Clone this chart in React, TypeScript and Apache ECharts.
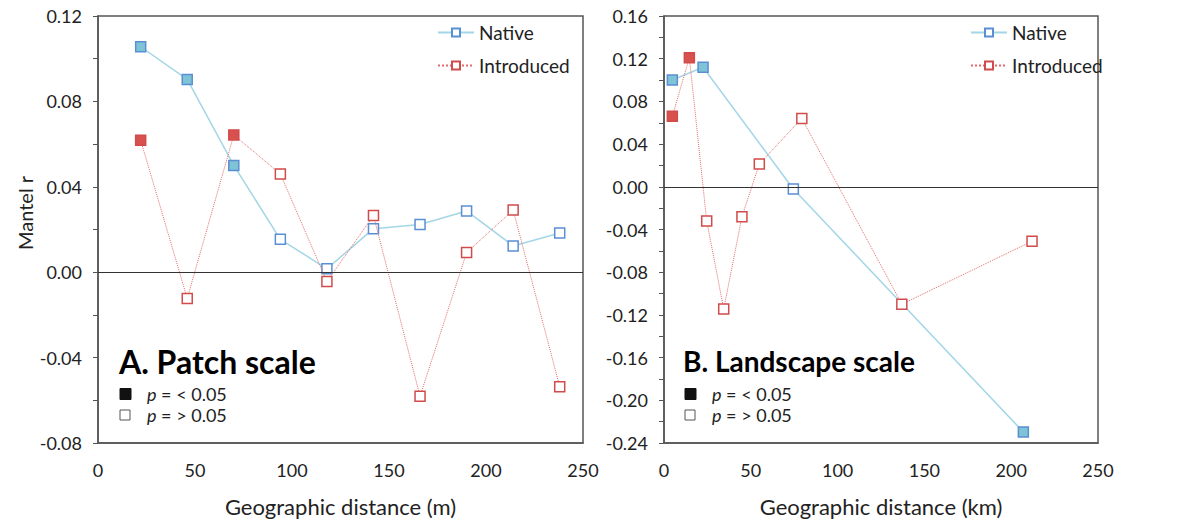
import React, { useEffect, useRef } from "react";
import * as echarts from "echarts";

// ---- Data: Patch scale (A) ----
const patchDist = [22, 46, 70, 94, 118, 142, 166, 190, 214, 238];
const patchNative = [0.1056, 0.0903, 0.05, 0.0154, 0.0016, 0.0204, 0.0223, 0.0287, 0.0123, 0.0184];
const patchNativeSig = [true, true, true, false, false, false, false, false, false, false];
const patchIntro = [0.0618, -0.0123, 0.0643, 0.046, -0.0044, 0.0265, -0.0581, 0.0092, 0.0291, -0.0536];
const patchIntroSig = [true, false, true, false, false, false, false, false, false, false];

// ---- Data: Landscape scale (B) ----
const landNativeDist = [4.8, 22.5, 74.5, 207];
const landNative = [0.1, 0.112, -0.002, -0.2297];
const landNativeSig = [true, true, false, true];
const landIntroDist = [4.8, 14.6, 24.6, 34.4, 44.9, 54.9, 79.4, 137, 212];
const landIntro = [0.066, 0.121, -0.032, -0.1145, -0.028, 0.0214, 0.064, -0.11, -0.051];
const landIntroSig = [true, true, false, false, false, false, false, false, false];

const xTicks = [0, 50, 100, 150, 200, 250];
const patchYRange = [-0.08, 0.12];
const landYRange = [-0.24, 0.16];

const FONT = "Lato";
const NATIVE_LINE = "#a3d6e6";
const NATIVE_BORDER = "#5b8fd3";
const NATIVE_FILL = "#7ec3d6";
const INTRO_LINE = "#e36b6b";
const INTRO_BORDER = "#d24b4b";
const INTRO_FILL = "#d9514f";

function buildPoints(xs: number[], ys: number[], sig: boolean[], fill: string) {
  return xs.map((x, i) => ({
    value: [x, ys[i]],
    itemStyle: { color: sig[i] ? fill : "#ffffff" },
  }));
}

export default function App() {
  const ref = useRef<HTMLDivElement>(null);

  useEffect(() => {
    document.body.style.margin = "0";
    if (!ref.current) return;
    const chart = echarts.init(ref.current, null, { renderer: "svg" });

    const yLabelFmt = (v: number) => {
      const k = Math.round(v * 100);
      return k % 4 === 0 ? v.toFixed(2) : "";
    };

    const mkX = (gridIndex: number, name: string) => ({
      type: "value",
      gridIndex,
      min: xTicks[0],
      max: xTicks[xTicks.length - 1],
      interval: 50,
      name,
      nameLocation: "middle",
      nameGap: 52,
      nameTextStyle: { fontFamily: FONT, fontSize: 22, color: "#222" },
      axisLine: { show: true, onZero: false, lineStyle: { color: "#555", width: 1.5 } },
      axisTick: { show: false },
      axisLabel: { fontFamily: FONT, fontSize: 18, color: "#222", margin: 18 },
      splitLine: { show: false },
    });

    const mkY = (gridIndex: number, range: number[]) => ({
      type: "value",
      gridIndex,
      min: range[0],
      max: range[1],
      interval: 0.02,
      axisLine: { show: true, onZero: false, lineStyle: { color: "#555", width: 1.5 } },
      axisTick: { show: true, inside: false, length: 5, lineStyle: { color: "#555" } },
      axisLabel: { fontFamily: FONT, fontSize: 18, color: "#222", margin: 16, formatter: yLabelFmt },
      splitLine: { show: false },
    });

    const zeroLine = {
      silent: true,
      symbol: ["none", "none"],
      label: { show: false },
      lineStyle: { color: "#333", type: "solid", width: 1.2 },
      data: [{ yAxis: 0 }],
      animation: false,
    };

    const nativeSeries = (xi: number, xs: number[], ys: number[], sig: boolean[]) => ({
      name: "Native",
      type: "line",
      xAxisIndex: xi,
      yAxisIndex: xi,
      symbol: "rect",
      symbolSize: 10,
      lineStyle: { color: NATIVE_LINE, width: 1.5, type: "solid" },
      itemStyle: { color: "#ffffff", borderColor: NATIVE_BORDER, borderWidth: 1.5 },
      data: buildPoints(xs, ys, sig, NATIVE_FILL),
      z: 3,
      markLine: zeroLine,
    });

    const introSeries = (xi: number, xs: number[], ys: number[], sig: boolean[]) => ({
      name: "Introduced",
      type: "line",
      xAxisIndex: xi,
      yAxisIndex: xi,
      symbol: "rect",
      symbolSize: 10,
      lineStyle: { color: INTRO_LINE, width: 1, type: "dotted" },
      itemStyle: { color: "#ffffff", borderColor: INTRO_BORDER, borderWidth: 1.5 },
      data: buildPoints(xs, ys, sig, INTRO_FILL),
      z: 4,
    });

    const mkLegend = (left: number) => ({
      orient: "vertical",
      left,
      top: 18,
      itemWidth: 36,
      itemHeight: 10,
      itemGap: 14,
      textStyle: { fontFamily: FONT, fontSize: 19, color: "#222" },
      data: ["Native", "Introduced"],
      selectedMode: false,
    });

    const pText = (x: number, y: number, text: string) => ({
      type: "text",
      x,
      y,
      style: {
        text,
        fontFamily: FONT,
        fontSize: 18,
        fill: "#222",
        align: "left",
        verticalAlign: "middle",
        rich: {
          i: { fontStyle: "italic", fontFamily: FONT, fontSize: 18, fill: "#222" },
          n: { fontFamily: FONT, fontSize: 18, fill: "#222" },
        },
      },
    });

    const pLegend = (x: number, y: number) => [
      { type: "rect", x, y: y - 5.5, shape: { width: 11, height: 11 }, style: { fill: "#111", stroke: "#111" } },
      pText(x + 27, y, "{i|p}{n| = < 0.05}"),
      { type: "rect", x, y: y + 16, shape: { width: 10, height: 10 }, style: { fill: "#fff", stroke: "#555", lineWidth: 1 } },
      pText(x + 27, y + 21, "{i|p}{n| = > 0.05}"),
    ];

    chart.setOption({
      animation: false,
      backgroundColor: "#ffffff",
      grid: [
        { left: 98, right: 1195 - 583, top: 16, bottom: 523 - 443, show: true, borderColor: "#555", borderWidth: 1.5, backgroundColor: "transparent" },
        { left: 664, right: 1195 - 1098, top: 16, bottom: 523 - 443, show: true, borderColor: "#555", borderWidth: 1.5, backgroundColor: "transparent" },
      ],
      xAxis: [mkX(0, "Geographic distance (m)"), mkX(1, "Geographic distance (km)")],
      yAxis: [mkY(0, patchYRange), mkY(1, landYRange)],
      legend: [mkLegend(432), mkLegend(965)],
      series: [
        nativeSeries(0, patchDist, patchNative, patchNativeSig),
        introSeries(0, patchDist, patchIntro, patchIntroSig),
        nativeSeries(1, landNativeDist, landNative, landNativeSig),
        introSeries(1, landIntroDist, landIntro, landIntroSig),
      ],
      graphic: [
        {
          type: "text",
          x: 25,
          y: 213,
          rotation: Math.PI / 2,
          style: {
            text: "{m|Mantel r}",
            align: "center",
            verticalAlign: "middle",
            rich: { m: { fontFamily: FONT, fontSize: 20, fill: "#222" } },
          },
        },
        {
          type: "text",
          x: 119,
          y: 361,
          style: { text: "A. Patch scale", fontFamily: FONT, fontSize: 32, fontWeight: "bold", fill: "#000", align: "left", verticalAlign: "middle" },
        },
        {
          type: "text",
          x: 683,
          y: 361,
          style: { text: "B. Landscape scale", fontFamily: FONT, fontSize: 28, fontWeight: "bold", fill: "#000", align: "left", verticalAlign: "middle" },
        },
        ...pLegend(120, 394),
        ...pLegend(685, 394),
      ],
    });

    return () => chart.dispose();
  }, []);

  return <div ref={ref} style={{ width: 1195, height: 523 }} />;
}
